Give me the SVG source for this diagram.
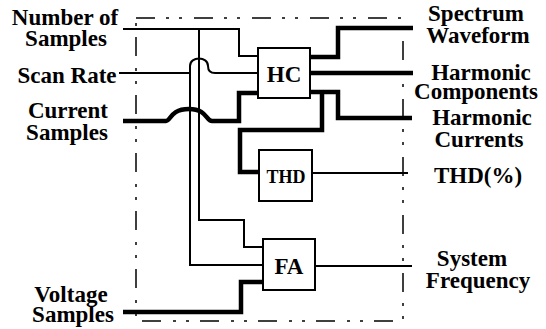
<svg xmlns="http://www.w3.org/2000/svg" width="546" height="329" viewBox="0 0 546 329">
<style>
.lbl{font-family:"Liberation Serif","Times New Roman",serif;font-weight:bold;font-size:23px;fill:#000;text-anchor:middle}
.box{fill:#fff;stroke:#000;stroke-width:2}
.thin{fill:none;stroke:#000;stroke-width:2}
.thick{fill:none;stroke:#000;stroke-width:4.5}
.frame{fill:none;stroke:#000;stroke-width:1.5;stroke-dasharray:19 11 3 10 3 12}
</style>
<rect width="546" height="329" fill="#fff"/>
<rect id="boundary" class="frame" x="136" y="18" width="267" height="303"/>
<g id="connectors">
<path class="thin" d="M123,29 H239 V56 H258"/>
<path class="thin" d="M199,29 V220 H244 V247 H263"/>
<path class="thin" d="M119,73 H190"/>
<path class="thin" d="M263,265 H190 V66 C190,56 208,56 208,66 Q208,73 215,73 H258"/>
<path class="thick" d="M123,121 H166 C171,121 170,109 189,109 C207,109 206,121 212,121 H239 V93 H258"/>
<path class="thick" d="M310,57 H338 V28 H413"/>
<path class="thick" d="M310,73 H413"/>
<path class="thick" d="M310,92 H338 V118 H412"/>
<path class="thick" d="M322,92 V130 H240 V172 H259"/>
<path class="thin" d="M312,173 H408"/>
<path class="thin" d="M315,266 H412"/>
<path class="thick" d="M123,312 H241 V282 H263"/>
</g>
<g id="HC">
<rect class="box" x="258" y="48" width="52" height="50"/>
<text class="lbl" x="284" y="82">HC</text>
</g>
<g id="THD">
<rect class="box" x="259" y="150" width="53" height="51"/>
<text class="lbl" x="286" y="183" style="font-size:18px">THD</text>
</g>
<g id="FA">
<rect class="box" x="263" y="239" width="52" height="51"/>
<text class="lbl" x="289" y="274">FA</text>
</g>
<g id="labels">
<text class="lbl" x="65" y="25">Number of</text>
<text class="lbl" x="66" y="46">Samples</text>
<text class="lbl" x="67" y="83">Scan Rate</text>
<text class="lbl" x="68" y="118">Current</text>
<text class="lbl" x="67" y="140">Samples</text>
<text class="lbl" x="71" y="302">Voltage</text>
<text class="lbl" x="73" y="322">Samples</text>
<text class="lbl" x="476" y="21">Spectrum</text>
<text class="lbl" x="478" y="43">Waveform</text>
<text class="lbl" x="481" y="80">Harmonic</text>
<text class="lbl" x="476" y="99">Components</text>
<text class="lbl" x="482" y="125">Harmonic</text>
<text class="lbl" x="479" y="147">Currents</text>
<text class="lbl" x="478" y="183">THD(%)</text>
<text class="lbl" x="472" y="266">System</text>
<text class="lbl" x="478" y="288">Frequency</text>
</g>
</svg>
